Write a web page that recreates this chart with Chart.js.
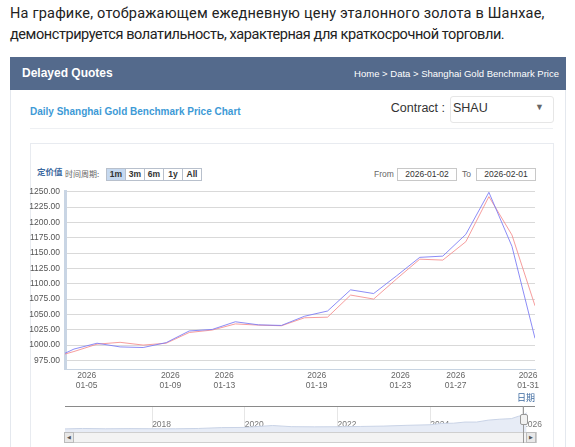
<!DOCTYPE html>
<html><head><meta charset="utf-8">
<script src="https://cdn.jsdelivr.net/npm/chart.js@4.4.1/dist/chart.umd.min.js"></script>
<style>
html,body{margin:0;padding:0;width:575px;height:447px;overflow:hidden;background:#fff;font-family:"Liberation Sans",Arial,sans-serif;}
.a{position:absolute;white-space:nowrap;}
.p{left:10px;font-family:Roboto,"Noto Sans",sans-serif;font-size:14.5px;color:#222;line-height:20px;}
#bar{left:10px;top:57px;width:556px;height:33px;background:#546a8c;}
#panel{left:10px;top:90px;width:554px;height:400px;border-left:1px solid #e4e8ee;border-right:1px solid #e4e8ee;}
#box{left:30px;top:143px;width:522px;height:400px;border:1px solid #e8ebf0;}
.btn{top:168px;height:11px;width:18px;border:1px solid #b8c0cc;background:#fff;font-size:8.5px;line-height:11px;text-align:center;color:#333;font-weight:bold;}
.inp{top:168px;height:11px;width:58px;border:1px solid #c8c8c8;font-size:8.5px;line-height:11px;text-align:center;color:#333;}
.cjk{font-family:"Noto Sans CJK SC","Liberation Sans",sans-serif;}
</style></head><body>
<div class="a p" style="top:4px;letter-spacing:0.2px;">На графике, отображающем ежедневную цену эталонного золота в Шанхае,</div>
<div class="a p" style="top:25px;letter-spacing:-0.42px;">демонстрируется волатильность, характерная для краткосрочной торговли.</div>
<div class="a" id="panel"></div>
<div class="a" id="bar"></div>
<div class="a" style="left:22px;top:66px;font-size:12px;font-weight:bold;color:#fff;">Delayed Quotes</div>
<div class="a" style="right:16px;top:68px;font-size:9.5px;color:#fff;">Home &gt; Data &gt; Shanghai Gold Benchmark Price</div>
<div class="a" style="left:30px;top:106px;font-size:10px;font-weight:bold;color:#3d9ad6;">Daily Shanghai Gold Benchmark Price Chart</div>
<div class="a" style="right:130px;top:101px;font-size:12.5px;color:#333;">Contract :</div>
<div class="a" style="left:450px;top:96px;width:102px;height:25px;border:1px solid #e6e6e6;border-radius:3px;"></div>
<div class="a" style="left:453px;top:101px;font-size:12.5px;color:#333;">SHAU</div>
<div class="a" style="left:535px;top:102px;font-size:9px;color:#666;">&#9660;</div>
<div class="a" style="left:30px;top:128px;width:523px;height:1px;background:#eef0f3;"></div>
<div class="a" id="box"></div>
<div class="a cjk" style="left:37px;top:165px;font-size:8.5px;font-weight:bold;color:#3d6aa0;">定价值</div>
<div class="a cjk" style="left:65px;top:168px;font-size:8px;color:#666;">时间周期:</div>
<div class="a btn" style="left:106px;background:#c6d9f0;">1m</div>
<div class="a btn" style="left:125px;">3m</div>
<div class="a btn" style="left:144px;">6m</div>
<div class="a btn" style="left:163px;">1y</div>
<div class="a btn" style="left:182px;">All</div>
<div class="a" style="left:374px;top:169px;font-size:8.5px;color:#666;">From</div>
<div class="a inp" style="left:397px;">2026-01-02</div>
<div class="a" style="left:462px;top:169px;font-size:8.5px;color:#666;">To</div>
<div class="a inp" style="left:476px;">2026-02-01</div>

<div class="a" style="left:0;top:180px;width:575px;height:223px;"><canvas id="main"></canvas></div>
<div class="a" style="left:0;top:400px;width:575px;height:47px;"><canvas id="nav"></canvas></div>

<div class="a" style="left:65px;top:406px;width:470px;height:1px;background:#8a8a8a;"></div>
<div class="a" style="left:64px;top:432px;width:471px;height:9px;border:1px solid #cfcfcf;background:#f3f3f3;"></div>
<div class="a" style="left:64px;top:432px;width:8px;height:9px;border:1px solid #bbb;background:#e8e8e8;font-size:5px;line-height:9px;text-align:center;color:#555;">&#9664;</div>
<div class="a" style="left:526px;top:432px;width:8px;height:9px;border:1px solid #bbb;background:#e8e8e8;font-size:5px;line-height:9px;text-align:center;color:#555;">&#9654;</div>
<div class="a" style="left:523px;top:406px;width:1px;height:37px;background:#999;"></div>
<div class="a" style="left:520px;top:414px;width:6px;height:9px;border:1px solid #999;border-radius:2px;background:#f2f2f2;"></div>

<script>
// Trading sessions (index -1 = 2025-12-31, clipped at left edge)
const sessionDates = ['2025-12-31','2026-01-02','2026-01-05','2026-01-06','2026-01-07','2026-01-08','2026-01-09',
  '2026-01-12','2026-01-13','2026-01-14','2026-01-15','2026-01-16','2026-01-19','2026-01-20','2026-01-21',
  '2026-01-22','2026-01-23','2026-01-26','2026-01-27','2026-01-28','2026-01-29','2026-01-30'];
const bluePrices = [976, 993.5, 1003, 997, 996, 1004, 1023, 1025.5, 1038, 1033, 1032, 1047, 1055.5, 1090, 1084,
  1113, 1143, 1145, 1180.5, 1249, 1161, 1011];
const redPrices = [979, 989.5, 1001.5, 1004.5, 1000, 1003, 1020.5, 1024.5, 1034.5, 1032.5, 1031.5, 1044.5, 1045.5,
  1081.5, 1075, 1108, 1140, 1138.5, 1168.5, 1242, 1179.5, 1064];
const yTickValues = [975, 1000, 1025, 1050, 1075, 1100, 1125, 1150, 1175, 1200, 1225, 1250];
const xTickPositions = [0.55, 4.18, 6.52, 10.53, 14.16, 16.56, 19.7];
const xTickLabels = [['2026','01-05'],['2026','01-09'],['2026','01-13'],['2026','01-19'],['2026','01-23'],['2026','01-27'],['2026','01-31']];

// Navigator (history)
const navYears = [2016.12, 2016.5, 2017, 2017.5, 2018, 2018.5, 2019, 2019.5, 2020, 2020.6, 2021, 2021.5, 2022, 2022.5,
  2023, 2023.5, 2024, 2024.25, 2024.5, 2024.75, 2025, 2025.25, 2025.5, 2025.75, 2025.9, 2026.0, 2026.08];
const navPrices = [262, 285, 270, 278, 272, 270, 285, 330, 340, 440, 380, 370, 375, 390, 410, 450, 480, 550, 560, 620,
  620, 720, 770, 800, 920, 980, 1100];
const navTickYears = [2018, 2020, 2022, 2024, 2026];

const toPts = arr => arr.map((v, i) => ({x: i - 1, y: v}));
const font = {family: '"Liberation Sans", Arial, sans-serif', size: 8.5};

new Chart(document.getElementById('main'), {
  type: 'line',
  data: {
    labels: sessionDates,
    datasets: [
      {label: 'AM', data: toPts(bluePrices), borderColor: 'rgba(120,120,245,0.85)', borderWidth: 1, pointRadius: 0, tension: 0},
      {label: 'PM', data: toPts(redPrices), borderColor: 'rgba(245,140,140,0.85)', borderWidth: 1, pointRadius: 0, tension: 0}
    ]
  },
  options: {
    responsive: true, maintainAspectRatio: false, animation: false,
    layout: {padding: {left: 0, right: 40, top: 11.7, bottom: 0}},
    plugins: {legend: {display: false}, tooltip: {enabled: false}},
    scales: {
      x: {
        type: 'linear', min: -0.39, max: 20,
        afterBuildTicks: s => { s.ticks = xTickPositions.map(v => ({value: v})); },
        afterFit: s => { s.height = 34; },
        grid: {display: false, drawTicks: false},
        border: {display: true, color: '#c8d4e2', width: 1},
        ticks: {autoSkip: false, maxRotation: 0, padding: 1.5, color: '#666', font: {...font, lineHeight: 1.2},
          callback: (v, i) => xTickLabels[i]},
        title: {display: true, text: '日期', align: 'end', color: '#3d6aa0', padding: 0,
          font: {family: '"Noto Sans CJK SC", sans-serif', size: 9, lineHeight: 1.25}}
      },
      y: {
        min: 961, max: 1250,
        afterBuildTicks: s => { s.ticks = yTickValues.map(v => ({value: v})); },
        afterFit: s => { s.width = 65; },
        grid: {color: '#d9d9d9', lineWidth: 1, drawTicks: false},
        border: {display: true, color: '#c9d5e4', width: 3},
        ticks: {padding: 5, color: '#555', font: font, callback: v => v.toFixed(2)}
      }
    }
  }
});

new Chart(document.getElementById('nav'), {
  type: 'line',
  data: {datasets: [{data: navYears.map((y, i) => ({x: y, y: navPrices[i]})), fill: 'start',
    backgroundColor: '#e7ecf6', borderColor: '#c9d3e6', borderWidth: 1, pointRadius: 0, tension: 0}]},
  options: {
    responsive: true, maintainAspectRatio: false, animation: false,
    layout: {padding: {left: 65, right: 40, top: 6, bottom: 0}},
    plugins: {legend: {display: false}, tooltip: {enabled: false}},
    scales: {
      x: {
        type: 'linear', min: 2016.12, max: 2026.26, z: 1,
        afterBuildTicks: s => { s.ticks = navTickYears.map(v => ({value: v})); },
        afterFit: s => { s.height = 15; },
        grid: {color: '#e6e6e6', drawTicks: false},
        border: {display: false},
        ticks: {mirror: true, align: 'start', padding: 2, color: '#777', font: font, callback: v => String(v)}
      },
      y: {display: false, min: 100, max: 1460}
    }
  }
});
</script>
</body></html>
